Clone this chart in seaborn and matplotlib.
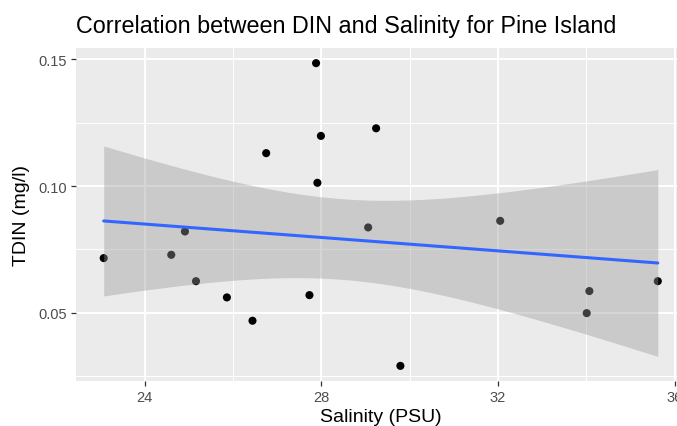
import numpy as np
import pandas as pd
import matplotlib
matplotlib.use("Agg")
import matplotlib.pyplot as plt
import seaborn as sns

# salinity (PSU) and total DIN (mg/l)
salinity = [23.07, 24.60, 24.91, 25.16, 25.86, 26.44, 26.75, 27.73, 27.88,
            27.91, 27.99, 29.06, 29.24, 29.79, 32.05, 34.07, 34.01, 35.62]
tdin = [0.0716, 0.0729, 0.0821, 0.0625, 0.0561, 0.0469, 0.1130, 0.0570, 0.1485,
        0.1013, 0.1198, 0.0837, 0.1228, 0.0291, 0.0863, 0.0586, 0.0499, 0.0625]
x_ticks = [24, 28, 32, 36]
y_ticks = [0.05, 0.10, 0.15]

df = pd.DataFrame({"Salinity": salinity, "TDIN": tdin})

# linear fit + 95% confidence band (like geom_smooth(method="lm"))
x = np.array(salinity)
y = np.array(tdin)
n = len(x)
b, a = np.polyfit(x, y, 1)
resid = y - (a + b * x)
s_err = np.sqrt(np.sum(resid ** 2) / (n - 2))
t_crit = 2.1199  # t(0.975, df=16)
grid = np.linspace(x.min(), x.max(), 80)
fit = a + b * grid
half = t_crit * s_err * np.sqrt(1 / n + (grid - x.mean()) ** 2 / np.sum((x - x.mean()) ** 2))

sns.set_theme(style="darkgrid")
plt.rcParams['font.family'] = ['Liberation Sans', 'DejaVu Sans']

fig = plt.figure(figsize=(6.77, 4.27), dpi=100)
ax = fig.add_axes([76 / 677, 45 / 427, 609.5 / 677, 333 / 427])
ax.set_facecolor("#EBEBEB")

sns.scatterplot(data=df, x="Salinity", y="TDIN", color="black", s=34,
                edgecolor="none", ax=ax)
ax.fill_between(grid, fit - half, fit + half, color="#999999", alpha=0.4,
                lw=0)
sns.regplot(data=df, x="Salinity", y="TDIN", scatter=False, ci=None, ax=ax,
            line_kws={"color": "#3366FF", "lw": 2.2})

ax.set_xticks(x_ticks)
ax.set_xticklabels([str(t) for t in x_ticks])
ax.set_yticks(y_ticks)
ax.set_yticklabels([f"{t:.2f}" for t in y_ticks])
ax.set_xticks([26, 30, 34], minor=True)
ax.set_yticks([0.025, 0.075, 0.125], minor=True)
ax.grid(which="major", color="white", lw=1.4)
ax.grid(which="minor", color="white", lw=0.7)
for s in ax.spines.values():
    s.set_visible(False)
ax.tick_params(axis="both", which="major", colors="#333333", labelcolor="#4D4D4D",
               labelsize=10.5, length=3.5, width=0.9, pad=3, bottom=True, left=True)
ax.tick_params(which="minor", length=0)

xr = max(salinity) - min(salinity)
yr = max(tdin) - min(tdin)
ax.set_xlim(min(salinity) - 0.05 * xr, max(salinity) + 0.05 * xr)
ax.set_ylim(min(tdin) - 0.05 * yr, max(tdin) + 0.05 * yr)

ax.set_xlabel("Salinity (PSU)", fontsize=14, color="black", labelpad=3)
ax.set_ylabel("TDIN (mg/l)", fontsize=14, color="black", labelpad=6)
fig.text(76 / 677, 1 - 26 / 427, "Correlation between DIN and Salinity for Pine Island",
         fontsize=16.8, color="black", ha="left", va="center")

fig.savefig("out.png", dpi=100)
